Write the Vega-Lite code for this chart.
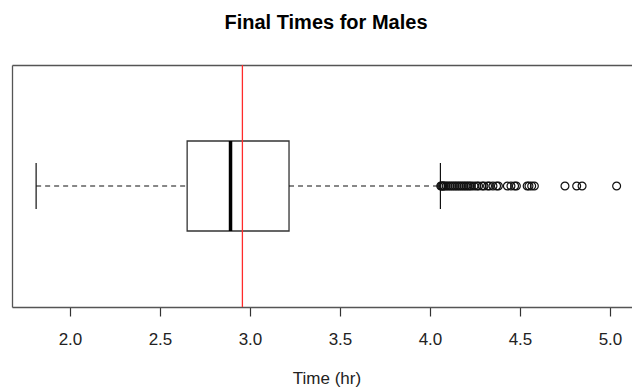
{
  "$schema": "https://vega.github.io/schema/vega-lite/v6.json",
  "width": 620,
  "height": 242,
  "autosize": {"type": "none"},
  "padding": {"left": 12, "top": 65, "right": 0, "bottom": 83},
  "background": "white",
  "title": {"text": "Final Times for Males", "fontSize": 20, "font": "Liberation Sans", "fontWeight": "bold", "color": "#000000", "offset": 31, "dx": 4},
  "config": {"view": {"stroke": null}},
  "datasets": {
    "summary": [{"lower": 1.812, "q1": 2.651, "median": 2.892, "q3": 3.217, "upper": 4.058, "mean": 2.958}],
    "outliers": [
      {"time": 4.06}, {"time": 4.065}, {"time": 4.07}, {"time": 4.075}, {"time": 4.08}, {"time": 4.09}, {"time": 4.1}, {"time": 4.11},
      {"time": 4.12}, {"time": 4.13}, {"time": 4.14}, {"time": 4.15}, {"time": 4.16}, {"time": 4.17}, {"time": 4.18}, {"time": 4.19},
      {"time": 4.2}, {"time": 4.21}, {"time": 4.22}, {"time": 4.23}, {"time": 4.245}, {"time": 4.26}, {"time": 4.27}, {"time": 4.29},
      {"time": 4.3}, {"time": 4.32}, {"time": 4.33}, {"time": 4.35}, {"time": 4.37}, {"time": 4.38}, {"time": 4.43}, {"time": 4.45},
      {"time": 4.47}, {"time": 4.48}, {"time": 4.54}, {"time": 4.55}, {"time": 4.565}, {"time": 4.58}, {"time": 4.75}, {"time": 4.815},
      {"time": 4.845}, {"time": 5.037}
    ]
  },
  "layer": [
    {
      "data": {"name": "summary"},
      "mark": {"type": "rect", "fill": "white", "stroke": "#333333", "strokeWidth": 1.3},
      "encoding": {
        "x": {
          "field": "q1", "type": "quantitative",
          "scale": {"domain": [1.678, 5.1224], "nice": false, "zero": false},
          "axis": {
            "values": [2, 2.5, 3, 3.5, 4, 4.5, 5], "format": ".1f", "title": "Time (hr)",
            "domain": true, "domainColor": "#555555", "domainWidth": 1.3, "tickColor": "#333333", "tickSize": 9, "tickWidth": 1.2,
            "labelFont": "Liberation Sans", "labelFontSize": 17, "labelColor": "#222222", "labelPadding": 15,
            "titleFont": "Liberation Sans", "titleFontSize": 17, "titleFontWeight": "normal", "titleColor": "#222222", "titlePadding": 23,
            "titleX": 314.5, "grid": false
          }
        },
        "x2": {"field": "q3"},
        "y": {
          "datum": 0.314, "type": "quantitative",
          "scale": {"domain": [0, 1], "nice": false, "zero": false},
          "axis": {"domain": true, "domainColor": "#555555", "domainWidth": 1.3, "labels": false, "ticks": false, "title": null, "grid": false}
        },
        "y2": {"datum": 0.686}
      }
    },
    {
      "data": {"name": "summary"},
      "mark": {"type": "rule", "color": "#111111", "strokeWidth": 1.1, "strokeDash": [5, 4]},
      "encoding": {
        "x": {"field": "lower", "type": "quantitative", "scale": {"domain": [1.678, 5.1224], "nice": false, "zero": false}, "axis": null},
        "x2": {"field": "q1"},
        "y": {"datum": 0.5, "type": "quantitative"}
      }
    },
    {
      "data": {"name": "summary"},
      "mark": {"type": "rule", "color": "#111111", "strokeWidth": 1.1, "strokeDash": [5, 4]},
      "encoding": {
        "x": {"field": "q3", "type": "quantitative", "scale": {"domain": [1.678, 5.1224], "nice": false, "zero": false}, "axis": null},
        "x2": {"field": "upper"},
        "y": {"datum": 0.5, "type": "quantitative"}
      }
    },
    {
      "data": {"name": "summary"},
      "transform": [{"fold": ["lower", "upper"], "as": ["end", "value"]}],
      "mark": {"type": "rule", "color": "#111111", "strokeWidth": 1.2},
      "encoding": {
        "x": {"field": "value", "type": "quantitative", "scale": {"domain": [1.678, 5.1224], "nice": false, "zero": false}, "axis": null},
        "y": {"datum": 0.405, "type": "quantitative"},
        "y2": {"datum": 0.595}
      }
    },
    {
      "data": {"name": "summary"},
      "mark": {"type": "rule", "color": "#000000", "strokeWidth": 3.5},
      "encoding": {
        "x": {"field": "median", "type": "quantitative", "scale": {"domain": [1.678, 5.1224], "nice": false, "zero": false}, "axis": null},
        "y": {"datum": 0.314, "type": "quantitative"},
        "y2": {"datum": 0.686}
      }
    },
    {
      "data": {"name": "outliers"},
      "mark": {"type": "point", "shape": "circle", "filled": false, "color": "#111111", "size": 62, "strokeWidth": 1.2, "opacity": 1},
      "encoding": {
        "x": {"field": "time", "type": "quantitative", "scale": {"domain": [1.678, 5.1224], "nice": false, "zero": false}, "axis": null},
        "y": {"datum": 0.5, "type": "quantitative"}
      }
    },
    {
      "data": {"name": "summary"},
      "mark": {"type": "rule", "color": "#ff2a2a", "strokeWidth": 1.3},
      "encoding": {
        "x": {
          "field": "mean", "type": "quantitative",
          "scale": {"domain": [1.678, 5.1224], "nice": false, "zero": false},
          "axis": {"orient": "top", "domain": true, "domainColor": "#555555", "domainWidth": 1.3, "labels": false, "ticks": false, "title": null, "grid": false}
        }
      }
    }
  ],
  "resolve": {"axis": {"x": "independent"}}
}
